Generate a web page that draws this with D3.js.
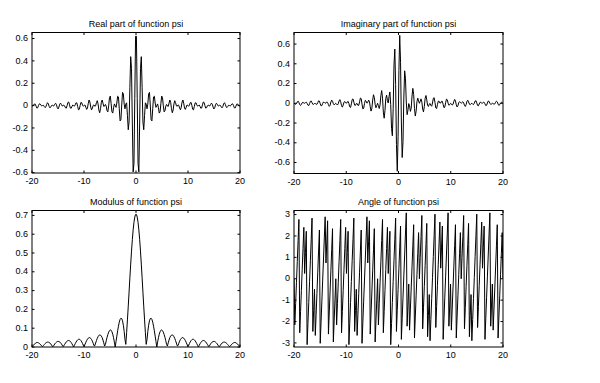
<!DOCTYPE html>
<html><head><meta charset="utf-8">
<script src="https://cdn.jsdelivr.net/npm/d3@7"></script>
<style>
body{margin:0;background:#fff}
svg{display:block}
text{font-family:"Liberation Sans",Arial,Helvetica,sans-serif;font-size:9px;fill:#000}
</style>
</head><body><svg id="chart" width="600" height="383"></svg>
<script>
// ---- data ----
const xLimits = [-20, 20];
const sampleCount = 256;
const xTickValues = [-20, -10, 0, 10, 20];
const xTickLabels = ["-20", "-10", "0", "10", "20"];

const realPart = [
0,-.003,.004,.015,.013,-.005,-.022,-.019,.001,.016,.014,.002,-.003,.001,.003,-.008,-.018,-.011,.011,.026,.017,-.007,-.020,-.012,.001,.003,
-.003,-.001,.013,.021,.007,-.019,-.030,-.013,.013,.022,.010,-.003,-.002,.004,-.002,-.019,-.023,-.001,.028,.032,.007,-.021,-.024,-.007,.005,0,-.005,.007,.026,.023,-.008,-.038,-.033,.001,.029,.025,.003,-.006,.003,.005,-.015,-.034,-.021,.021,.050,.032,-.013,-.038,-.024,.002,.006,
-.006,-.002,.027,.044,.015,-.040,-.064,-.028,.029,.050,.022,-.007,-.004,.010,-.005,-.046,-.056,-.002,.071,.085,.019,-.056,-.067,-.019,.015,0,-.016,.023,.084,.077,-.028,-.137,-.125,.005,.118,.105,.013,-.029,.014,.025,-.087,-.216,-.146,.164,.438,.332,-.156,-.593,-.517,.064,.621,
.621,.064,-.517,-.593,-.156,.332,.438,.164,-.146,-.216,-.087,.025,.014,-.029,.013,.105,.118,.005,-.125,-.137,-.028,.077,.084,.023,-.016,0,.015,-.019,-.067,-.056,.019,.085,.071,-.002,-.056,-.046,-.005,.010,-.004,-.007,.022,.050,.029,-.028,-.064,-.040,.015,.044,.027,-.002,-.006,
.006,.002,-.024,-.038,-.013,.032,.050,.021,-.021,-.034,-.015,.005,.003,-.006,.003,.025,.029,.001,-.033,-.038,-.008,.023,.026,.007,-.005,0,.005,-.007,-.024,-.021,.007,.032,.028,-.001,-.023,-.019,-.002,.004,-.002,-.003,.010,.022,.013,-.013,-.030,-.019,.007,.021,.013,-.001,-.003,
.003,.001,-.012,-.020,-.007,.017,.026,.011,-.011,-.018,-.008,.003,.001,-.003,.002,.014,.016,.001,-.019,-.022,-.005,.013,.015,.004,-.003,0
];

const imagPart = [
0,-.005,-.010,-.003,.014,.022,.008,-.014,-.022,-.010,.006,.010,.003,0,.007,.011,-.001,-.019,-.023,-.003,.020,.023,.006,-.010,-.010,-.002,
-.002,-.010,-.010,.007,.025,.022,-.004,-.026,-.023,-.001,.013,.009,0,.004,.014,.009,-.014,-.031,-.020,.013,.032,.021,-.004,-.016,-.008,0,-.008,-.017,-.005,.024,.037,.015,-.024,-.039,-.018,.011,.018,.006,.001,.013,.020,-.002,-.036,-.042,-.006,.038,.045,.012,-.019,-.020,-.003,
-.003,-.021,-.021,.014,.053,.047,-.008,-.057,-.051,-.003,.030,.021,.001,.009,.032,.021,-.035,-.079,-.050,.033,.087,.058,-.012,-.045,-.022,0,-.024,-.053,-.016,.080,.129,.053,-.089,-.151,-.073,.049,.082,.026,.003,.071,.115,-.013,-.253,-.329,-.054,.387,.549,.189,-.416,-.688,-.334,
.334,.688,.416,-.189,-.549,-.387,.054,.329,.253,.013,-.115,-.071,-.003,-.026,-.082,-.049,.073,.151,.089,-.053,-.129,-.080,.016,.053,.024,0,.022,.045,.012,-.058,-.087,-.033,.050,.079,.035,-.021,-.032,-.009,-.001,-.021,-.030,.003,.051,.057,.008,-.047,-.053,-.014,.021,.021,.003,
.003,.020,.019,-.012,-.045,-.038,.006,.042,.036,.002,-.020,-.013,-.001,-.006,-.018,-.011,.018,.039,.024,-.015,-.037,-.024,.005,.017,.008,0,.008,.016,.004,-.021,-.032,-.013,.020,.031,.014,-.009,-.014,-.004,0,-.009,-.013,.001,.023,.026,.004,-.022,-.025,-.007,.010,.010,.002,
.002,.010,.010,-.006,-.023,-.020,.003,.023,.019,.001,-.011,-.007,0,-.003,-.010,-.006,.010,.022,.014,-.008,-.022,-.014,.003,.010,.005,0
];

const modulus = [
0,.006,.011,.016,.019,.022,.024,.024,.022,.019,.015,.010,.005,.002,.008,.013,.018,.022,.025,.026,.026,.024,.021,.016,.010,.003,
.003,.010,.017,.022,.026,.029,.030,.029,.027,.022,.017,.010,.002,.006,.014,.021,.027,.031,.034,.035,.033,.030,.024,.017,.009,0,.009,.018,.026,.033,.038,.041,.041,.039,.034,.027,.018,.008,.003,.014,.025,.034,.042,.047,.050,.050,.046,.040,.031,.020,.007,
.007,.021,.034,.046,.055,.062,.064,.063,.058,.050,.037,.022,.005,.014,.033,.051,.066,.079,.087,.091,.089,.081,.068,.049,.026,0,.029,.058,.086,.111,.132,.147,.153,.151,.139,.116,.083,.039,.014,.076,.144,.217,.292,.368,.441,.510,.571,.623,.663,.691,.705,
.705,.691,.663,.623,.571,.510,.441,.368,.292,.217,.144,.076,.014,.039,.083,.116,.139,.151,.153,.147,.132,.111,.086,.058,.029,0,.026,.049,.068,.081,.089,.091,.087,.079,.066,.051,.033,.014,.005,.022,.037,.050,.058,.063,.064,.062,.055,.046,.034,.021,.007,
.007,.020,.031,.040,.046,.050,.050,.047,.042,.034,.025,.014,.003,.008,.018,.027,.034,.039,.041,.041,.038,.033,.026,.018,.009,0,.009,.017,.024,.030,.033,.035,.034,.031,.027,.021,.014,.006,.002,.010,.017,.022,.027,.029,.030,.029,.026,.022,.017,.010,.003,
.003,.010,.016,.021,.024,.026,.026,.025,.022,.018,.013,.008,.002,.005,.010,.015,.019,.022,.024,.024,.022,.019,.016,.011,.006,0
];

const angle = [
0,-2.156,-1.170,-.185,.801,1.786,2.772,-2.526,-1.540,-.554,.431,1.417,2.402,.246,1.232,2.218,-3.080,-2.094,-1.109,-.123,.862,1.848,2.834,-2.464,-1.478,-.493,
-2.649,-1.663,-.678,.308,1.294,2.279,-3.018,-2.033,-1.047,-.062,.924,1.910,2.895,.739,1.725,2.710,-2.587,-1.602,-.616,.370,1.355,2.341,-2.957,-1.971,-.986,0,-2.156,-1.170,-.185,.801,1.786,2.772,-2.526,-1.540,-.554,.431,1.417,2.402,.246,1.232,2.218,-3.080,-2.094,-1.109,-.123,.862,1.848,2.834,-2.464,-1.478,-.493,
-2.649,-1.663,-.678,.308,1.294,2.279,-3.018,-2.033,-1.047,-.062,.924,1.910,2.895,.739,1.725,2.710,-2.587,-1.602,-.616,.370,1.355,2.341,-2.957,-1.971,-.986,0,-2.156,-1.170,-.185,.801,1.786,2.772,-2.526,-1.540,-.554,.431,1.417,2.402,.246,1.232,2.218,-3.080,-2.094,-1.109,-.123,.862,1.848,2.834,-2.464,-1.478,-.493,
.493,1.478,2.464,-2.834,-1.848,-.862,.123,1.109,2.094,3.080,-2.218,-1.232,-.246,-2.402,-1.417,-.431,.554,1.540,2.526,-2.772,-1.786,-.801,.185,1.170,2.156,0,.986,1.971,2.957,-2.341,-1.355,-.370,.616,1.602,2.587,-2.710,-1.725,-.739,-2.895,-1.910,-.924,.062,1.047,2.033,3.018,-2.279,-1.294,-.308,.678,1.663,2.649,
.493,1.478,2.464,-2.834,-1.848,-.862,.123,1.109,2.094,3.080,-2.218,-1.232,-.246,-2.402,-1.417,-.431,.554,1.540,2.526,-2.772,-1.786,-.801,.185,1.170,2.156,0,.986,1.971,2.957,-2.341,-1.355,-.370,.616,1.602,2.587,-2.710,-1.725,-.739,-2.895,-1.910,-.924,.062,1.047,2.033,3.018,-2.279,-1.294,-.308,.678,1.663,2.649,
.493,1.478,2.464,-2.834,-1.848,-.862,.123,1.109,2.094,3.080,-2.218,-1.232,-.246,-2.402,-1.417,-.431,.554,1.540,2.526,-2.772,-1.786,-.801,.185,1.170,2.156,0
];

const panelTitles = ["Real part of function psi", "Imaginary part of function psi", "Modulus of function psi", "Angle of function psi"];
const yTicksRealImag = [-0.6, -0.4, -0.2, 0, 0.2, 0.4, 0.6];
const yTickLabelsRealImag = ["-0.6", "-0.4", "-0.2", "0", "0.2", "0.4", "0.6"];
const yTicksModulus = [0, 0.1, 0.2, 0.3, 0.4, 0.5, 0.6, 0.7];
const yTickLabelsModulus = ["0", "0.1", "0.2", "0.3", "0.4", "0.5", "0.6", "0.7"];
const yTicksAngle = [-3, -2, -1, 0, 1, 2, 3];
const yTickLabelsAngle = ["-3", "-2", "-1", "0", "1", "2", "3"];

// ---- layout ----
const panels = [
  {values: realPart, title: panelTitles[0], yDomain: [-0.603, 0.654], ticks: yTicksRealImag, labels: yTickLabelsRealImag, box: [32, 240, 32.5, 173]},
  {values: imagPart, title: panelTitles[1], yDomain: [-0.711, 0.717], ticks: yTicksRealImag, labels: yTickLabelsRealImag, box: [294, 503, 32.5, 173.5]},
  {values: modulus, title: panelTitles[2], yDomain: [0, 0.726], ticks: yTicksModulus, labels: yTickLabelsModulus, box: [32, 240, 210.5, 347]},
  {values: angle, title: panelTitles[3], yDomain: [-3.19, 3.19], ticks: yTicksAngle, labels: yTickLabelsAngle, box: [294, 503, 210.5, 347]}
];

const svg = d3.select("#chart");
const indexToX = d3.scaleLinear().domain([0, sampleCount - 1]).range(xLimits);
const tickLen = 2.5;

panels.forEach(p => {
  const [x0, x1, y0, y1] = p.box;
  const xs = d3.scaleLinear().domain(xLimits).range([x0, x1]);
  const ys = d3.scaleLinear().domain(p.yDomain).range([y1, y0]);
  const g = svg.append("g");

  g.append("defs").append("clipPath").attr("id", "clip" + x0 + y0)
    .append("rect").attr("x", x0).attr("y", y0).attr("width", x1 - x0).attr("height", y1 - y0);

  g.append("path")
    .datum(p.values)
    .attr("clip-path", "url(#clip" + x0 + y0 + ")")
    .attr("fill", "none")
    .attr("stroke", "#000")
    .attr("stroke-width", 1)
    .attr("d", d3.line().x((d, i) => xs(indexToX(i))).y(d => ys(d)));

  // box
  g.append("rect").attr("x", x0).attr("y", y0).attr("width", x1 - x0).attr("height", y1 - y0)
    .attr("fill", "none").attr("stroke", "#000").attr("stroke-width", 1);

  // x ticks (bottom and top, inward)
  xTickValues.forEach((v, i) => {
    const px = xs(v);
    g.append("line").attr("x1", px).attr("x2", px).attr("y1", y1).attr("y2", y1 - tickLen).attr("stroke", "#000");
    g.append("line").attr("x1", px).attr("x2", px).attr("y1", y0).attr("y2", y0 + tickLen).attr("stroke", "#000");
    g.append("text").attr("x", px).attr("y", y1 + 11).attr("text-anchor", "middle").text(xTickLabels[i]);
  });

  // y ticks (left and right, inward)
  p.ticks.forEach((v, i) => {
    const py = ys(v);
    g.append("line").attr("x1", x0).attr("x2", x0 + tickLen).attr("y1", py).attr("y2", py).attr("stroke", "#000");
    g.append("line").attr("x1", x1).attr("x2", x1 - tickLen).attr("y1", py).attr("y2", py).attr("stroke", "#000");
    g.append("text").attr("x", x0 - 4).attr("y", py).attr("dy", "0.3em").attr("text-anchor", "end").text(p.labels[i]);
  });

  g.append("text").attr("x", (x0 + x1) / 2).attr("y", y0 - 6).attr("text-anchor", "middle").text(p.title);
});
</script>
</body></html>
